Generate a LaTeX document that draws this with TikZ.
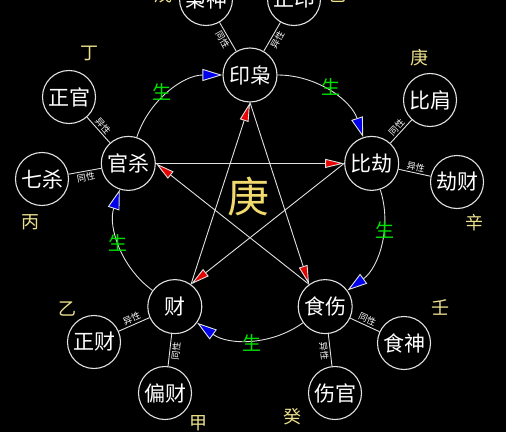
\documentclass[tikz,border=0pt]{standalone}
\usepackage{fontspec}
\setmainfont{Noto Sans CJK SC}
\usetikzlibrary{arrows.meta}
\definecolor{lbl}{RGB}{236,224,140}
\definecolor{bigl}{RGB}{240,218,110}
\definecolor{shg}{RGB}{0,225,0}
\definecolor{arrb}{RGB}{0,0,235}
\definecolor{arrr}{RGB}{230,0,0}
\definecolor{ln}{RGB}{225,225,225}
\begin{document}
\begin{tikzpicture}[x=1pt,y=1pt,
  wuxing/.style={circle, draw=ln, line width=1.1pt, fill=black, minimum size=54pt, inner sep=0pt, text=white, font=\fontsize{21pt}{22pt}\selectfont},
  shishen/.style={wuxing, minimum size=53pt},
  gan/.style={text=lbl, font=\fontsize{18pt}{19pt}\selectfont, inner sep=0pt},
  sheng/.style={text=shg, font=\fontsize{19pt}{20pt}\selectfont, inner sep=0pt},
  arcline/.style={draw=ln, line width=0.9pt, -{Triangle[length=20pt,width=12pt,fill=arrb]}, bend left=36, looseness=0.94},
  keline/.style={draw=ln, line width=0.9pt, -{Triangle[length=19pt,width=9pt,fill=arrr]}},
  tie/.style={draw=ln, line width=0.9pt},
  xing/.style={text=white, font=\fontsize{9pt}{10pt}\selectfont, inner sep=1.5pt, sloped}
]
\useasboundingbox (0,0) rectangle (506,432);
\fill[black] (0,0) rectangle (506,432);
\clip (0,0) rectangle (506,432);

% main five nodes
\node[wuxing] (yx) at (250,357) {印枭};
\node[wuxing] (bj) at (371.7,268.6) {比劫};
\node[wuxing] (ss) at (325.2,125.4) {食伤};
\node[wuxing] (cai) at (174.8,125.4) {财};
\node[wuxing] (gs) at (128.3,268.6) {官杀};

% sub nodes
\node[shishen] (xs) at (206,433) {枭神};
\node[shishen] (zy) at (294,433) {正印};
\node[shishen] (bjian) at (430,332) {比肩};
\node[shishen] (jc) at (457,250) {劫财};
\node[shishen] (sshen) at (404,89) {食神};
\node[shishen] (sg) at (335,39) {伤官};
\node[shishen] (pc) at (165,39) {偏财};
\node[shishen] (zc) at (94,90) {正财};
\node[shishen] (qs) at (42,253) {七杀};
\node[shishen] (zg) at (69,335) {正官};

% generating cycle (arcs)
\draw[arcline] (gs) to (yx);
\draw[arcline] (yx) to (bj);
\draw[arcline] (bj) to (ss);
\draw[arcline] (ss) to (cai);
\draw[arcline] (cai) to (gs);

% controlling star
\draw[keline] (gs.east) -- (bj.west);
\draw[keline] (bj.west) -- (cai.54);
\draw[keline] (cai.54) -- (yx.south);
\draw[keline] (yx.south) -- (ss.126);
\draw[keline] (ss.126) -- (gs.east);

% ties to sub nodes
\draw[tie] (yx) -- node[xing, below] {同性} (xs);
\draw[tie] (yx) -- node[xing, below] {异性} (zy);
\draw[tie] (gs) -- node[xing, above] {异性} (zg);
\draw[tie] (gs) -- node[xing, below] {同性} (qs);
\draw[tie] (bj) -- node[xing, above] {同性} (bjian);
\draw[tie] (bj) -- node[xing, above] {异性} (jc);
\draw[tie] (cai) -- node[xing, above] {异性} (zc);
\draw[tie] (cai) -- node[xing, below] {同性} (pc);
\draw[tie] (ss) -- node[xing, above] {同性} (sshen);
\draw[tie] (ss) -- node[xing, below] {异性} (sg);

% heavenly stems
\node[gan] (wu) at (163,437) {戊};
\node[gan] (ji) at (337,437) {己};
\node[gan] (ding) at (89,379) {丁};
\node[gan] (bing) at (30,210) {丙};
\node[gan] (yi) at (67,123) {乙};
\node[gan] (jia) at (198,9) {甲};
\node[gan] (gui) at (292,15) {癸};
\node[gan] (ren) at (440,125) {壬};
\node[gan] (xin) at (474,209) {辛};
\node[gan] (geng) at (419,374) {庚};

% sheng labels
\node[sheng] (s1) at (162,340) {生};
\node[sheng] (s2) at (331,345) {生};
\node[sheng] (s3) at (385,202) {生};
\node[sheng] (s4) at (252,89) {生};
\node[sheng] (s5) at (118,189) {生};

% center
\node[text=bigl, font=\fontsize{42pt}{44pt}\selectfont, inner sep=0pt] (center) at (248,235) {庚};
\end{tikzpicture}
\end{document}
